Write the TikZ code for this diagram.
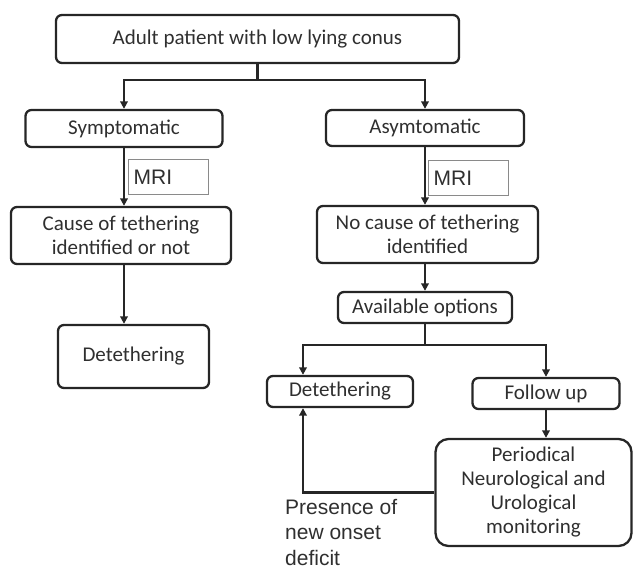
\documentclass[tikz,border=0pt]{standalone}
\usepackage{fontspec}
\setmainfont{Carlito}
\newfontfamily\arialfont{Liberation Sans}
\usetikzlibrary{arrows.meta}
\definecolor{ink}{HTML}{262626}
\definecolor{txt}{HTML}{2F2F2F}
\definecolor{mrigray}{HTML}{8A8A8A}
\begin{document}
\begin{tikzpicture}[x=1pt,y=-1pt,
  box/.style={draw=ink, line width=2.3pt, rounded corners=6pt, inner sep=0pt,
    align=center, text=txt, font=\fontsize{21}{24}\selectfont},
  mribox/.style={draw=mrigray, line width=1.2pt, inner sep=5pt, text width=70pt,
    minimum height=35pt, align=left, text=txt, font=\arialfont\fontsize{21}{24}\selectfont},
  conn/.style={draw=ink, line width=2.3pt},
  arr/.style={conn, -{Triangle[length=7.5pt,width=7.5pt]}},
  note/.style={inner sep=0pt, align=left, text=txt, anchor=north west,
    font=\arialfont\fontsize{21}{25.5}\selectfont}]
\useasboundingbox (0,0) rectangle (633,569);

\node[box, minimum width=403pt, minimum height=48pt] (top) at (257.5,39) {Adult patient with low lying conus};
\node[box, minimum width=197pt, minimum height=37pt] (symp) at (124,128.5) {Symptomatic};
\node[box, minimum width=198pt, minimum height=36pt] (asym) at (425,128) {Asymtomatic};
\node[mribox, anchor=north west] (mri1) at (128,159) {MRI};
\node[mribox, anchor=north west] (mri2) at (428,160) {MRI};
\node[box, minimum width=220pt, minimum height=57pt] (cause) at (121,235.5) {Cause of tethering\\identified or not};
\node[box, minimum width=221pt, minimum height=57pt] (nocause) at (427.5,234.5) {No cause of tethering\\identified};
\node[box, minimum width=151pt, minimum height=63pt] (det1) at (133.5,356.5) {Detethering};
\node[box, minimum width=174pt, minimum height=31pt] (ao) at (425,307.5) {Available options};
\node[box, minimum width=146pt, minimum height=31pt] (det2) at (340,391.5) {Detethering};
\node[box, minimum width=147pt, minimum height=31pt] (fu) at (546,393.5) {Follow up};
\node[box, rounded corners=13pt, minimum width=196pt, minimum height=107pt] (per) at (533.5,492.5)
  {Periodical\\Neurological and\\Urological\\monitoring};
\node[note] (deficit) at (285,499) {Presence of\\new onset\\deficit};

\coordinate (j1) at (0,80);
\coordinate (d2) at (303,345);

\draw[conn] (top.south) -- (top.south |- j1);
\draw[arr] (top.south |- j1) -| (symp.north);
\draw[arr] (top.south |- j1) -| (asym.north);
\draw[arr] (symp.south) -- (symp.south |- cause.north);
\draw[arr] (symp.south |- cause.south) -- (symp.south |- det1.north);
\draw[arr] (asym.south) -- (asym.south |- nocause.north);
\draw[arr] (ao.north |- nocause.south) -- (ao.north);
\draw[arr] (ao.south) |- (d2) -- (d2 |- det2.north);
\draw[arr] (ao.south) |- (fu.north |- d2) -- (fu.north);
\draw[arr] (fu.south) -- (fu.south |- per.north);
\draw[arr] (per.west) -| (d2 |- det2.south);
\end{tikzpicture}
\end{document}
